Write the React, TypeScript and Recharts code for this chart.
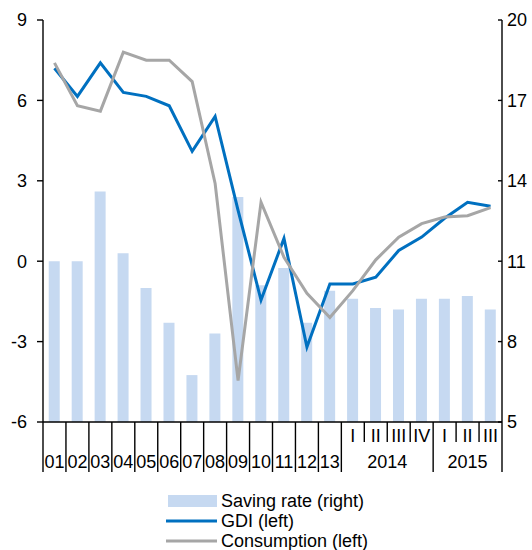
import React from 'react';
import { ComposedChart, Bar, Line, XAxis, YAxis } from 'recharts';

// periods: 2001-2013 annual, then 2014-2015 quarterly
const periods = [
  '01', '02', '03', '04', '05', '06', '07', '08', '09', '10', '11', '12', '13',
  '14Q1', '14Q2', '14Q3', '14Q4', '15Q1', '15Q2', '15Q3',
];
const annualLabels = ['01', '02', '03', '04', '05', '06', '07', '08', '09', '10', '11', '12', '13'];
const quarterLabels = ['I', 'II', 'III', 'IV', 'I', 'II', 'III'];
const yearLabels = ['2014', '2015'];
const yearQuarterCounts = [4, 3];

const savingRate = [11.0, 11.0, 13.6, 11.3, 10.0, 8.7, 6.75, 8.3, 13.4, 10.1, 10.75, 8.7, 9.9, 9.6, 9.25, 9.2, 9.6, 9.6, 9.7, 9.2];
const gdi = [7.2, 6.15, 7.4, 6.3, 6.15, 5.8, 4.1, 5.4, 1.9, -1.45, 0.85, -3.2, -0.85, -0.85, -0.6, 0.4, 0.9, 1.6, 2.2, 2.05];
const consumption = [7.4, 5.8, 5.6, 7.8, 7.5, 7.5, 6.7, 2.9, -4.45, 2.2, 0.15, -1.2, -2.1, -1.1, 0.05, 0.9, 1.4, 1.65, 1.7, 2.0];

const leftTicks = [-6, -3, 0, 3, 6, 9];
const rightTicks = [5, 8, 11, 14, 17, 20];

const data = periods.map((p, i) => ({
  period: p,
  saving: savingRate[i],
  gdi: gdi[i],
  consumption: consumption[i],
}));

const FONT = '"Liberation Sans", Arial, sans-serif';
const FS = 18;
const BAR_COLOR = '#C6D9F1';
const GDI_COLOR = '#0070C0';
const CONS_COLOR = '#A6A6A6';

const W = 532;
const H = 550;
const LEFT_W = 43;
const RIGHT_W = 30;
const PLOT_W = W - LEFT_W - RIGHT_W;
const BAND = PLOT_W / periods.length;
const nAnnual = annualLabels.length;

function XTick(props: any) {
  const { x, y, index } = props;
  const left = x - BAND / 2;
  const q = index - nAnnual;
  // long separators between years, short between quarters
  let yearStart = nAnnual;
  let isYearStart = index <= nAnnual;
  let yearIdx = -1;
  for (let k = 0; k < yearQuarterCounts.length; k++) {
    if (index === yearStart) {
      isYearStart = true;
      yearIdx = k;
    }
    yearStart += yearQuarterCounts[k];
  }
  return (
    <g>
      <line x1={left} y1={y} x2={left} y2={y + (isYearStart ? 50 : 20)} stroke="#000" strokeWidth={1.4} />
      {index === periods.length - 1 && (
        <line x1={x + BAND / 2} y1={y} x2={x + BAND / 2} y2={y + 50} stroke="#000" strokeWidth={1.4} />
      )}
      {index < nAnnual ? (
        <text x={x} y={y + 46} textAnchor="middle" fontSize={FS} fontFamily={FONT} fill="#000">
          {annualLabels[index]}
        </text>
      ) : (
        <text x={x} y={y + 19.5} textAnchor="middle" fontSize={FS} fontFamily={FONT} fill="#000">
          {quarterLabels[q]}
        </text>
      )}
      {yearIdx >= 0 && (
        <text
          x={x + ((yearQuarterCounts[yearIdx] - 1) * BAND) / 2}
          y={y + 45.5}
          textAnchor="middle"
          fontSize={FS}
          fontFamily={FONT}
          fill="#000"
        >
          {yearLabels[yearIdx]}
        </text>
      )}
    </g>
  );
}

function RightTick(props: any) {
  const { x, y, payload } = props;
  const axisX = x - 5;
  return (
    <g>
      <line x1={axisX - 4} y1={y} x2={axisX} y2={y} stroke="#000" strokeWidth={1.4} />
      <text x={x} y={y} dy="0.355em" textAnchor="start" fontSize={FS} fontFamily={FONT} fill="#000">
        {payload.value}
      </text>
    </g>
  );
}

function LegendRow({ kind, color, label, top }: { kind: 'bar' | 'line'; color: string; label: string; top: number }) {
  return (
    <div style={{ position: 'absolute', left: 166, top, height: 20, display: 'flex', alignItems: 'center' }}>
      <svg width={53} height={20} style={{ display: 'block' }}>
        {kind === 'bar' ? (
          <rect x={2} y={4} width={49} height={12} fill={color} />
        ) : (
          <line x1={0} y1={10} x2={51} y2={10} stroke={color} strokeWidth={3} />
        )}
      </svg>
      <span style={{ fontFamily: FONT, fontSize: 18, lineHeight: '20px', marginLeft: 2, color: '#000' }}>{label}</span>
    </div>
  );
}

export default function App() {
  return (
    <div style={{ position: 'absolute', left: 0, top: 0, width: W, height: H, background: '#fff' }}>
      <ComposedChart
        width={W}
        height={H}
        data={data}
        margin={{ top: 20, right: 0, bottom: 0, left: 0 }}
        barCategoryGap="25%"
      >
        <XAxis
          dataKey="period"
          height={128}
          interval={0}
          axisLine={{ stroke: '#000', strokeWidth: 1.4 }}
          tickLine={false}
          tickSize={0}
          tickMargin={0}
          tick={<XTick />}
        />
        <YAxis
          yAxisId="left"
          orientation="left"
          width={LEFT_W}
          domain={[-6, 9]}
          ticks={leftTicks}
          interval={0}
          tickSize={6}
          tickMargin={10}
          axisLine={{ stroke: '#000', strokeWidth: 1.4 }}
          tickLine={{ stroke: '#000', strokeWidth: 1.4 }}
          tick={{ fontSize: FS, fontFamily: FONT, fill: '#000' }}
        />
        <YAxis
          yAxisId="right"
          orientation="right"
          width={RIGHT_W}
          domain={[5, 20]}
          ticks={rightTicks}
          interval={0}
          tickSize={0}
          tickMargin={5}
          axisLine={{ stroke: '#000', strokeWidth: 1.4 }}
          tickLine={false}
          tick={<RightTick />}
        />
        <Bar yAxisId="right" dataKey="saving" fill={BAR_COLOR} isAnimationActive={false} />
        <Line
          yAxisId="left"
          type="linear"
          dataKey="gdi"
          stroke={GDI_COLOR}
          strokeWidth={3}
          dot={false}
          isAnimationActive={false}
        />
        <Line
          yAxisId="left"
          type="linear"
          dataKey="consumption"
          stroke={CONS_COLOR}
          strokeWidth={3}
          dot={false}
          isAnimationActive={false}
        />
      </ComposedChart>
      <LegendRow kind="bar" color={BAR_COLOR} label="Saving rate (right)" top={491} />
      <LegendRow kind="line" color={GDI_COLOR} label="GDI (left)" top={511} />
      <LegendRow kind="line" color={CONS_COLOR} label="Consumption (left)" top={531} />
    </div>
  );
}
